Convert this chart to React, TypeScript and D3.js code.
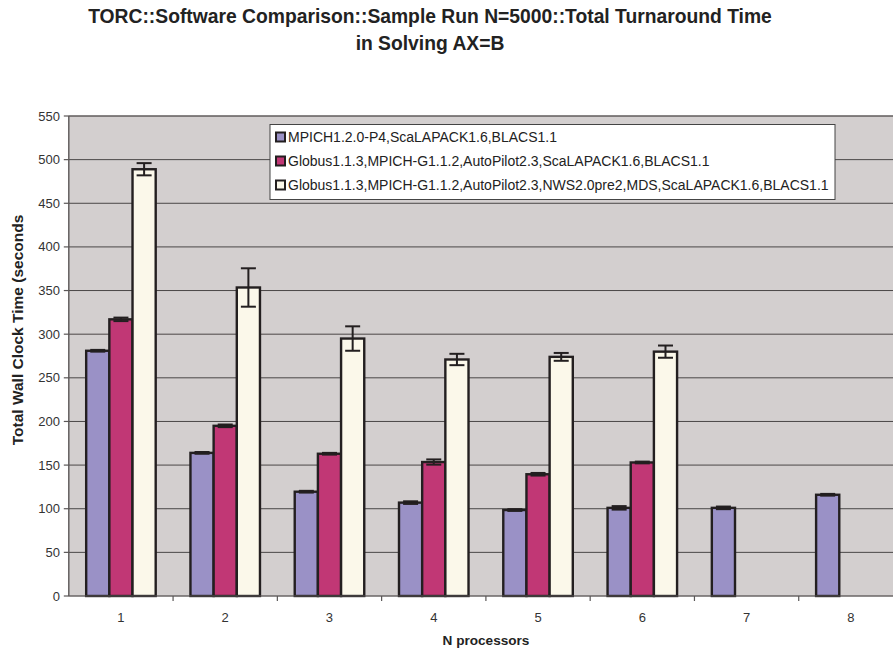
import React from "react";
import * as d3 from "d3";

const categories = ["1", "2", "3", "4", "5", "6", "7", "8"];
const seriesNames = [
  "MPICH1.2.0-P4,ScaLAPACK1.6,BLACS1.1",
  "Globus1.1.3,MPICH-G1.1.2,AutoPilot2.3,ScaLAPACK1.6,BLACS1.1",
  "Globus1.1.3,MPICH-G1.1.2,AutoPilot2.3,NWS2.0pre2,MDS,ScaLAPACK1.6,BLACS1.1",
];
const mpichValues = [281, 164, 119.5, 107, 98.5, 101, 101, 116];
const mpichErrors = [1, 1, 1, 1.5, 1, 2, 1.5, 1];
const globusValues = [317, 195, 163, 153.5, 139.5, 153, null, null];
const globusErrors = [2, 1.5, 1, 3, 1.5, 1, null, null];
const nwsValues = [489, 353.5, 295, 271, 274, 280, null, null];
const nwsErrors = [7, 22, 14, 6.5, 4.5, 7, null, null];
const yTicks = [0, 50, 100, 150, 200, 250, 300, 350, 400, 450, 500, 550];
const colors = ["#9a91c6", "#c13775", "#fbf8ea"];

const W = 893;
const H = 650;
const plotLeft = 68.8;
const plotRight = 903;
const plotTop = 116;
const plotBottom = 596;
const ink = "#231f20";

export default function App() {
  const series = [
    { name: seriesNames[0], values: mpichValues, errors: mpichErrors, color: colors[0] },
    { name: seriesNames[1], values: globusValues, errors: globusErrors, color: colors[1] },
    { name: seriesNames[2], values: nwsValues, errors: nwsErrors, color: colors[2] },
  ];
  const x = d3.scaleBand<string>().domain(categories).range([plotLeft, plotRight]).padding(0);
  const xInner = d3
    .scaleBand<string>()
    .domain(["0", "1", "2"])
    .range([0, x.bandwidth()])
    .paddingInner(0)
    .paddingOuter(0.75);
  const y = d3.scaleLinear().domain([0, 550]).range([plotBottom, plotTop]);
  const font = "'Liberation Sans', Arial, sans-serif";
  const bw = xInner.bandwidth();
  const capHalf = 7.5;

  return (
    <svg
      width={W}
      height={H}
      style={{ position: "absolute", left: 0, top: 0, background: "#fff" }}
      fontFamily={font}
    >
      {/* title */}
      <text x={430} y={23} textAnchor="middle" fontWeight="bold" fontSize={19.3} fill="#222">
        TORC::Software Comparison::Sample Run N=5000::Total Turnaround Time
      </text>
      <text x={430} y={50} textAnchor="middle" fontWeight="bold" fontSize={19.3} fill="#222">
        in Solving AX=B
      </text>

      {/* plot background */}
      <rect x={plotLeft} y={plotTop} width={plotRight - plotLeft} height={plotBottom - plotTop} fill="#d3cfcf" stroke="#8a8686" strokeWidth={1} />

      {/* gridlines */}
      {yTicks.filter((t) => t > 0).map((t) => (
        <line key={t} x1={plotLeft} x2={plotRight} y1={y(t)} y2={y(t)} stroke="#4a4747" strokeWidth={1} />
      ))}

      {/* y axis */}
      <line x1={plotLeft} x2={plotLeft} y1={plotTop} y2={plotBottom} stroke="#5a5757" strokeWidth={1.2} />
      {yTicks.map((t) => (
        <g key={t}>
          <line x1={plotLeft - 5} x2={plotLeft} y1={y(t)} y2={y(t)} stroke="#5a5757" strokeWidth={1.2} />
          <text x={60} y={y(t)} dy="0.35em" textAnchor="end" fontSize={13} fill="#333">
            {t}
          </text>
        </g>
      ))}

      {/* bars */}
      {series.map((s, si) =>
        s.values.map((v, ci) => {
          if (v == null) return null;
          const bx = (x(categories[ci]) as number) + (xInner(String(si)) as number);
          return (
            <rect
              key={`${si}-${ci}`}
              x={bx}
              y={y(v)}
              width={bw}
              height={plotBottom - y(v)}
              fill={s.color}
              stroke={ink}
              strokeWidth={2.4}
            />
          );
        })
      )}

      {/* error bars */}
      {series.map((s, si) =>
        s.values.map((v, ci) => {
          const e = s.errors[ci];
          if (v == null || e == null) return null;
          const cx = (x(categories[ci]) as number) + (xInner(String(si)) as number) + bw / 2;
          const y1 = y(v + e);
          const y2 = y(v - e);
          return (
            <g key={`e-${si}-${ci}`} stroke={ink} strokeWidth={2}>
              <line x1={cx} x2={cx} y1={y1} y2={y2} />
              <line x1={cx - capHalf} x2={cx + capHalf} y1={y1} y2={y1} />
              <line x1={cx - capHalf} x2={cx + capHalf} y1={y2} y2={y2} />
            </g>
          );
        })
      )}

      {/* x axis */}
      <line x1={plotLeft} x2={plotRight} y1={plotBottom} y2={plotBottom} stroke="#5a5757" strokeWidth={1.2} />
      {categories.map((c, i) => (
        <g key={c}>
          {i > 0 && (
            <line
              x1={x(c) as number}
              x2={x(c) as number}
              y1={plotBottom}
              y2={plotBottom + 5}
              stroke="#5a5757"
              strokeWidth={1.2}
            />
          )}
          <text x={(x(c) as number) + x.bandwidth() / 2} y={621.5} textAnchor="middle" fontSize={13} fill="#333">
            {c}
          </text>
        </g>
      ))}

      {/* axis titles */}
      <text x={486} y={645} textAnchor="middle" fontWeight="bold" fontSize={13.6} fill="#222">
        N processors
      </text>
      <text
        transform={`translate(23,330) rotate(-90)`}
        textAnchor="middle"
        fontWeight="bold"
        fontSize={15.5}
        fill="#222"
      >
        Total Wall Clock Time (seconds
      </text>

      {/* legend */}
      <rect x={270} y={124.5} width={565} height={75} fill="#fff" stroke="#444" strokeWidth={1} />
      {series.map((s, si) => (
        <g key={`l-${si}`} transform={`translate(276, ${137 + si * 24})`}>
          <rect x={0} y={-4.5} width={9} height={9} fill={s.color} stroke={ink} strokeWidth={2} />
          <text x={12} y={0} dy="0.36em" fontSize={14} fill="#222">
            {s.name}
          </text>
        </g>
      ))}
    </svg>
  );
}
